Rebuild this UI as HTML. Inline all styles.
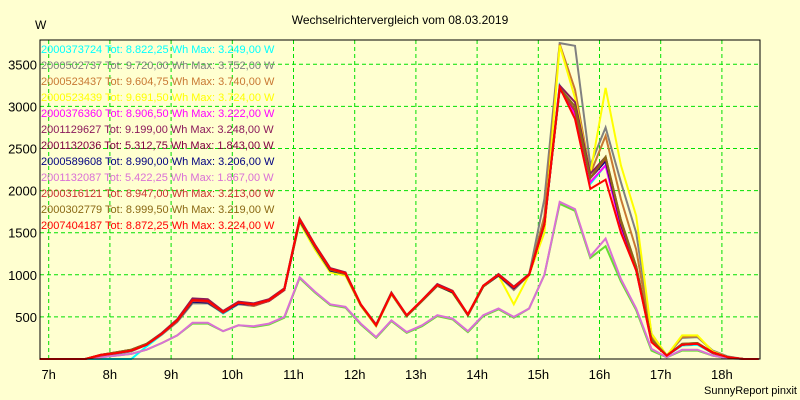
<!DOCTYPE html>
<html><head><meta charset="utf-8">
<style>
body{margin:0;background:#ffffd0;}
svg{display:block;font-family:"Liberation Sans",sans-serif;}
</style></head>
<body>
<svg id="chart" width="800" height="400" viewBox="0 0 800 400">
<rect x="0" y="0" width="800" height="400" fill="#ffffd0"/>
<text x="400" y="24" font-size="12" text-anchor="middle" fill="#000">Wechselrichtervergleich vom 08.03.2019</text>
<text x="35" y="29" font-size="12" fill="#000">W</text>
<text x="797" y="394" font-size="11" text-anchor="end" fill="#000">SunnyReport pinxit</text>
<g id="grid"></g>
<g id="lines"></g>
<g id="axes"></g>
<g id="legend"></g>
</svg>
<script>
const startHour = 6.85;
const stepHours = 0.25;
const xTickLabels = ["7h","8h","9h","10h","11h","12h","13h","14h","15h","16h","17h","18h"];
const xTickHours = [7,8,9,10,11,12,13,14,15,16,17,18];
const yTicks = [500,1000,1500,2000,2500,3000,3500];
const seriesNames = ["2000373724","2000502737","2000523437","2000523439","2000376360","2001129627","2001132036","2000589608","2001132087","2000316121","2000302779","2007404187"];
const seriesTotals = ["8.822,25","9.720,00","9.604,75","9.691,50","8.906,50","9.199,00","5.312,75","8.990,00","5.422,25","8.947,00","8.999,50","8.872,25"];
const seriesMax = ["3.249,00","3.752,00","3.740,00","3.724,00","3.222,00","3.248,00","1.843,00","3.206,00","1.867,00","3.213,00","3.219,00","3.224,00"];
const legendColors = ["#00ffff","#808080","#c87832","#ffff00","#ff00ff","#8b1a5a","#800040","#000080","#da70d6","#c83232","#8b6914","#ff0000"];
const lineColors = ["#00ffff","#808080","#c87832","#ffff00","#ff00ff","#8b1a5a","#66dd33","#000080","#da70d6","#c83232","#8b6914","#ff0000"];
const s0 = [0,0,0,0,0,0,0,150,290,450,680,670,540,650,640,690,820,1640,1320,1050,1000,640,400,770,510,690,870,790,520,860,990,840,1000,1580,3249,2900,2080,2300,1600,1050,220,40,160,170,70,20,0,0];
const s1 = [0,0,0,0,40,60,90,170,290,440,660,660,550,650,630,690,820,1630,1320,1040,1000,640,390,770,510,690,870,790,520,860,990,820,1000,1900,3752,3720,2300,2750,2100,1500,300,40,250,260,100,30,0,0];
const s2 = [0,0,0,0,50,80,110,180,300,450,690,680,550,660,630,690,820,1640,1330,1050,1000,640,400,770,510,690,870,790,520,860,1000,830,1000,1700,3740,3200,2200,2650,1900,1300,260,40,260,270,90,20,0,0];
const s3 = [0,0,0,0,40,70,100,170,300,450,680,670,550,660,640,690,830,1620,1300,1030,990,630,390,770,510,690,880,780,520,860,990,650,1000,1500,3724,3100,2200,3220,2300,1700,300,40,280,280,90,20,0,0];
const s4 = [0,0,0,0,40,70,100,170,300,460,690,680,550,660,640,690,820,1650,1340,1060,1010,640,400,780,510,690,870,800,520,860,1000,840,1000,1600,3222,2900,2100,2300,1550,1050,210,40,170,180,70,20,0,0];
const s5 = [0,0,0,0,50,80,110,180,310,470,720,710,570,680,660,710,840,1670,1360,1080,1030,650,410,790,520,700,890,810,530,870,1010,860,1010,1620,3248,3050,2200,2400,1650,1100,230,40,180,190,80,20,0,0];
const s6 = [0,0,0,0,20,40,60,110,190,280,420,420,330,400,380,410,490,960,790,640,610,410,250,450,310,390,510,470,320,510,590,490,600,1000,1843,1760,1200,1340,920,580,100,20,100,100,40,10,0,0];
const s7 = [0,0,0,0,40,70,100,170,300,450,680,670,550,660,640,690,820,1640,1330,1050,1010,640,400,780,510,690,870,790,520,860,990,840,1000,1600,3206,2950,2150,2350,1600,1080,220,40,170,180,70,20,0,0];
const s8 = [0,0,0,0,20,40,60,110,190,280,430,430,330,400,390,420,500,970,800,650,620,420,260,460,320,400,520,480,330,520,600,500,600,1000,1867,1780,1220,1430,950,600,120,20,110,110,40,10,0,0];
const s9 = [0,0,0,0,40,70,100,170,300,450,690,680,550,670,640,690,820,1650,1340,1060,1010,640,400,780,510,690,870,800,520,860,1000,850,1000,1610,3213,2950,2150,2380,1620,1080,220,40,170,180,70,20,0,0];
const s10 = [0,0,0,0,50,80,110,180,300,460,700,690,560,670,650,700,830,1660,1340,1060,1010,640,400,780,510,690,870,800,520,860,1000,850,1000,1610,3219,3000,2150,2400,1650,1100,230,40,180,190,80,20,0,0];
const s11 = [0,0,0,0,50,70,100,170,300,460,700,690,560,670,650,700,830,1660,1350,1070,1020,650,400,780,520,700,880,800,530,870,1000,850,1000,1600,3224,2850,2020,2130,1500,1050,200,40,170,180,80,20,0,0];
const seriesValues = [s0,s1,s2,s3,s4,s5,s6,s7,s8,s9,s10,s11];

const NS = "http://www.w3.org/2000/svg";
const plotL = 40, plotR = 760, plotT = 40, plotB = 359;
const hourX0 = 48.7, pxPerHour = 61.2;
const pxPerW = 0.0842;
function xScale(h){ return hourX0 + (h - 7) * pxPerHour; }
function yScale(v){ return plotB - v * pxPerW; }
function mk(tag, attrs, parent){ const e = document.createElementNS(NS, tag); for (const k in attrs) e.setAttribute(k, attrs[k]); parent.appendChild(e); return e; }

const grid = document.getElementById('grid');
const axes = document.getElementById('axes');
const linesG = document.getElementById('lines');
const legend = document.getElementById('legend');

xTickHours.forEach((h, i) => {
  const x = xScale(h);
  const gl = mk('line', {x1:x, y1:plotT, x2:x, y2:plotB, stroke:'#00e000', 'stroke-width':1, 'stroke-dasharray':'4,3'}, grid);
  
  
  const t = mk('text', {x:x, y:plotB+20, 'font-size':13, 'text-anchor':'middle', fill:'#000'}, axes);
  t.textContent = xTickLabels[i];
  
  
});
yTicks.forEach(v => {
  const y = yScale(v);
  const gl = mk('line', {x1:plotL, y1:y, x2:plotR, y2:y, stroke:'#00e000', 'stroke-width':1, 'stroke-dasharray':'4,3'}, grid);
  
  
  const t = mk('text', {x:plotL-3, y:y+5, 'font-size':13, 'text-anchor':'end', fill:'#000'}, axes);
  t.textContent = String(v);
  
  
});
const frame = mk('rect', {x:plotL, y:plotT, width:plotR-plotL, height:plotB-plotT, fill:'none', stroke:'#000', 'stroke-width':1}, axes);



seriesValues.forEach((vals, si) => {
  const pts = vals.map((v, i) => xScale(startHour + i*stepHours).toFixed(1) + ',' + yScale(v).toFixed(1)).join(' ');
  const pl = mk('polyline', {points:pts, fill:'none', stroke:lineColors[si], 'stroke-width':2, 'stroke-linejoin':'miter'}, linesG);
  
  
});

seriesNames.forEach((n, i) => {
  const t = mk('text', {x:41, y:53 + i*16, 'font-size':11, fill:legendColors[i]}, legend);
  t.textContent = n + ' Tot: ' + seriesTotals[i] + ' Wh Max: ' + seriesMax[i] + ' W';
  
  
});
</script>
</body></html>
